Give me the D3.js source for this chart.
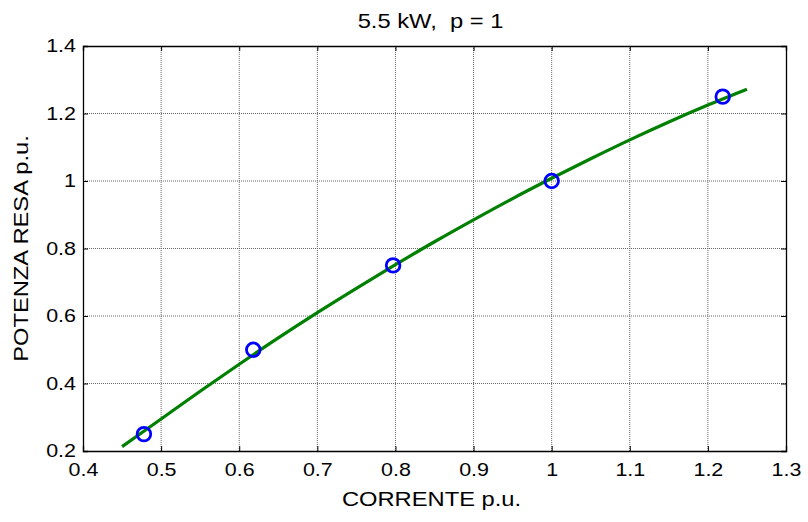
<!DOCTYPE html>
<html>
<head>
<meta charset="utf-8">
<script src="https://cdn.jsdelivr.net/npm/d3@7"></script>
<style>
  body { margin: 0; background: #fff; }
  text { font-family: "Liberation Sans", Arial, sans-serif; fill: #000; }
</style>
</head>
<body>
<script>
// data

const titleText = "5.5 kW,  p = 1";
const xLabel = "CORRENTE p.u.";
const yLabel = "POTENZA RESA p.u.";

const xTicks = [0.4, 0.5, 0.6, 0.7, 0.8, 0.9, 1, 1.1, 1.2, 1.3];
const yTicks = [0.2, 0.4, 0.6, 0.8, 1, 1.2, 1.4];

// measured points (blue circles)
const pointCurrent = [0.478, 0.618, 0.797, 1.0, 1.219];
const pointPower = [0.25, 0.5, 0.75, 1.0, 1.25];

// fitted curve (green)
const curveCurrent = [0.45, 0.50, 0.55, 0.60, 0.65, 0.70, 0.75, 0.80, 0.85, 0.90, 0.95, 1.00, 1.05, 1.10, 1.15, 1.20, 1.25];
const curvePower = [0.213, 0.295, 0.377, 0.457, 0.535, 0.610, 0.682, 0.752, 0.820, 0.885, 0.948, 1.008, 1.066, 1.122, 1.175, 1.225, 1.272];

// dimensions

const dms = {
    width: 808,
    height: 522,
    margins: { top: 46, right: 22, bottom: 71, left: 83 }
};
dms.innerWidth = dms.width - dms.margins.left - dms.margins.right;
dms.innerHeight = dms.height - dms.margins.top - dms.margins.bottom;

const stretch = 1.16;      // tick text is a little wider than tall
const labelStretch = 1.13;

const svg = d3.select("body")
    .append("svg")
        .attr("width", dms.width)
        .attr("height", dms.height);

const g = svg.append("g")
    .attr("transform", `translate(${dms.margins.left},${dms.margins.top})`);

// scales

const xScale = d3.scaleLinear()
    .domain([0.4, 1.3])
    .range([0, dms.innerWidth]);

const yScale = d3.scaleLinear()
    .domain([0.2, 1.4])
    .range([dms.innerHeight, 0]);

// grid

g.append("g")
    .selectAll("line")
    .data(xTicks.slice(1, -1))
    .join("line")
        .attr("x1", d => xScale(d))
        .attr("x2", d => xScale(d))
        .attr("y1", 0)
        .attr("y2", dms.innerHeight)
        .attr("stroke", "#666")
        .attr("stroke-dasharray", "1,1");

g.append("g")
    .selectAll("line")
    .data(yTicks.slice(1, -1))
    .join("line")
        .attr("x1", 0)
        .attr("x2", dms.innerWidth)
        .attr("y1", d => yScale(d))
        .attr("y2", d => yScale(d))
        .attr("stroke", "#666")
        .attr("stroke-dasharray", "1,1");

// axes, ticks pointing inward on all four sides

const fmt = d3.format("");

const xAxis = g.append("g")
    .attr("transform", `translate(0,${dms.innerHeight})`)
    .call(d3.axisBottom(xScale).tickValues(xTicks).tickFormat(fmt).tickSize(-5).tickPadding(12));

const yAxis = g.append("g")
    .call(d3.axisLeft(yScale).tickValues(yTicks).tickFormat(fmt).tickSize(-5).tickPadding(7));

g.append("g")
    .call(d3.axisTop(xScale).tickValues(xTicks).tickFormat("").tickSize(-5));

g.append("g")
    .attr("transform", `translate(${dms.innerWidth},0)`)
    .call(d3.axisRight(yScale).tickValues(yTicks).tickFormat("").tickSize(-5));

g.selectAll(".domain").attr("stroke", "#000").attr("stroke-width", 1.3);
g.selectAll(".tick line").attr("stroke", "#000");

xAxis.selectAll("text")
    .attr("font-size", 18.5)
    .attr("font-family", "Liberation Sans, Arial, sans-serif")
    .attr("transform", `scale(${stretch},1)`);

yAxis.selectAll("text")
    .attr("font-size", 18.5)
    .attr("font-family", "Liberation Sans, Arial, sans-serif")
    .attr("x", -7 / stretch)
    .attr("transform", `scale(${stretch},1)`);

// curve

const line = d3.line()
    .x(d => xScale(d[0]))
    .y(d => yScale(d[1]))
    .curve(d3.curveCatmullRom);

g.append("path")
    .datum(curveCurrent.map((c, i) => [c, curvePower[i]]))
    .attr("d", line)
    .attr("fill", "none")
    .attr("stroke", "#008000")
    .attr("stroke-width", 3.2);

// points

g.selectAll("circle")
    .data(pointCurrent.map((c, i) => [c, pointPower[i]]))
    .join("circle")
        .attr("cx", d => xScale(d[0]))
        .attr("cy", d => yScale(d[1]))
        .attr("r", 6.8)
        .attr("fill", "none")
        .attr("stroke", "#0000ff")
        .attr("stroke-width", 2.8);

// labels

svg.append("text")
    .attr("transform", `translate(${dms.margins.left + dms.innerWidth / 2 - 4},28) scale(${labelStretch},1)`)
    .attr("text-anchor", "middle")
    .attr("font-size", 21)
    .style("white-space", "pre")
    .text(titleText);

svg.append("text")
    .attr("transform", `translate(${dms.margins.left + dms.innerWidth / 2 - 3},506) scale(${labelStretch},1)`)
    .attr("text-anchor", "middle")
    .attr("font-size", 21)
    .text(xLabel);

svg.append("text")
    .attr("transform", `translate(28,${dms.margins.top + dms.innerHeight / 2}) rotate(-90) scale(${labelStretch},1)`)
    .attr("text-anchor", "middle")
    .attr("font-size", 21)
    .text(yLabel);
</script>
</body>
</html>
